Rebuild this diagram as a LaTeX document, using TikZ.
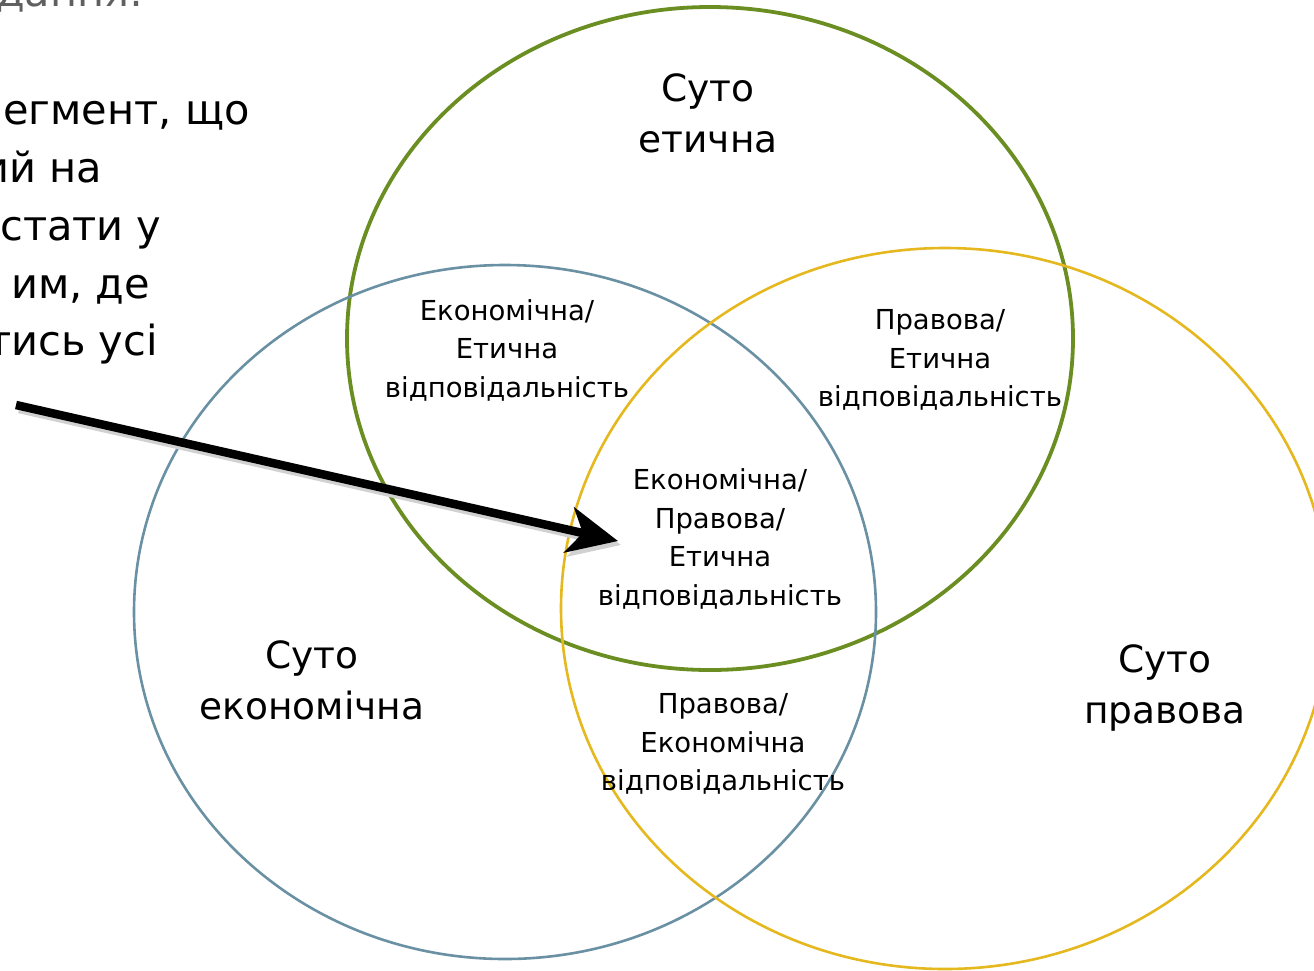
\documentclass[tikz,border=0pt]{standalone}
\usepackage{fontspec}
\setmainfont{DejaVu Sans}
\usetikzlibrary{arrows.meta}
\definecolor{ethgreen}{RGB}{107,142,35}
\definecolor{ecoblue}{RGB}{106,145,163}
\definecolor{legyellow}{RGB}{228,184,30}
\definecolor{topgray}{RGB}{96,96,96}
\tikzset{
  ring/.style={line width=#1},
  small/.style={align=center, font=\fontsize{27.5}{38.5}\selectfont, inner sep=0pt},
  big/.style={align=center, font=\fontsize{37.5}{51}\selectfont, inner sep=0pt},
  side/.style={anchor=base west, font=\fontsize{41.5}{41.5}\selectfont, inner sep=0pt},
  bigarrow/.style={line width=8.5pt, -{Stealth[length=50pt,width=46pt,inset=14pt]}},
}
\begin{document}
\begin{tikzpicture}[x=1pt,y=-1pt]
\useasboundingbox (0,0) rectangle (1314,970);
\clip (0,0) rectangle (1314,970);
% circles
\draw[ethgreen, ring=3.8pt] (710,338.5) ellipse [x radius=363pt, y radius=331.5pt];
\draw[ecoblue, ring=2.6pt] (505,612) ellipse [x radius=371pt, y radius=347pt];
\draw[legyellow, ring=2.6pt] (945,608.5) ellipse [x radius=384pt, y radius=360.5pt];
% side text
\node[side, text=topgray] (t0) at (-4,6) {дання:};
\node[side] (t1) at (3,124) {егмент, що};
\node[side] (t2) at (-18,182) {ий на};
\node[side] (t3) at (0,240) {стати у};
\node[side] (t4) at (11,298) {им, де};
\node[side] (t5) at (-13,355) {тись усі};
% labels
\node[big] (eth) at (708,113) {Суто\\етична};
\node[big] (eco) at (312,680) {Суто\\економічна};
\node[big] (leg) at (1165,688) {Суто\\правова};
\node[small] (ecoeth) at (507,350) {Економічна/\\Етична\\відповідальність};
\node[small] (legeth) at (940,360) {Правова/\\Етична\\відповідальність};
\node[small] (all) at (720,539) {Економічна/\\Правова/\\Етична\\відповідальність};
\node[small] (legeco) at (723,744) {Правова/\\Економічна\\відповідальність};
% arrow
\coordinate (as) at (16,405);
\coordinate (ae) at (618,541);
\draw[bigarrow, black!18, transform canvas={xshift=3pt,yshift=-4pt}] (as) -- (ae);
\draw[bigarrow, black] (as) -- (ae);
\end{tikzpicture}
\end{document}
